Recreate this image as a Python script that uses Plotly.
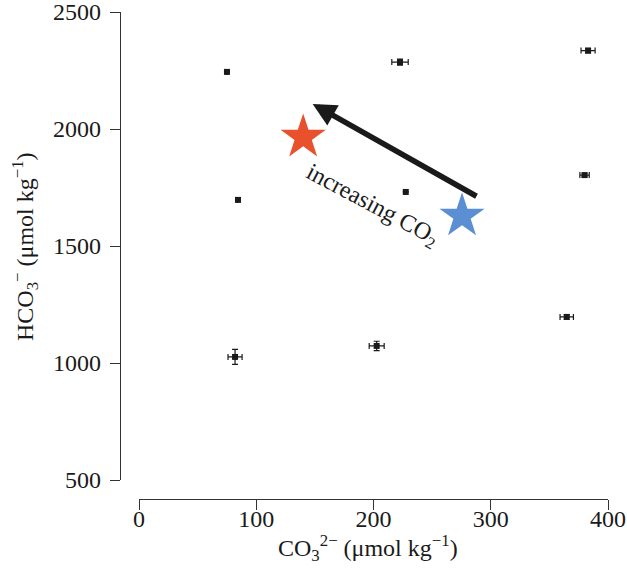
import plotly.graph_objects as go

# Data points (CO3 2-, HCO3-) with error bars
co3 = [75, 222.6, 383, 84.4, 227.5, 380, 364.8, 202.7, 81.9]
hco3 = [2244, 2286, 2335, 1697, 1731, 1803, 1197, 1073, 1026]
co3_err = [0, 7, 6, 0, 0, 4, 5.7, 6.4, 6]
hco3_err = [0, 13, 10, 0, 0, 8, 10, 20, 32]

# Stars
star_x = [140, 275.5]
star_y = [1965, 1628]
star_colors = ["#E8512B", "#5B8ED2"]

# Arrow (tail -> head)
arrow_tail = (289.1, 1709)
arrow_head = (148.1, 2107)
arrow_label = "increasing CO<sub>2</sub>"

x_ticks = [0, 100, 200, 300, 400]
y_ticks = [500, 1000, 1500, 2000, 2500]

x_title = "CO<sub>3</sub><sup>2−</sup> (μmol kg<sup>−1</sup>)"
y_title = "HCO<sub>3</sub><sup>−</sup> (μmol kg<sup>−1</sup>)"

FONT = "Liberation Serif, Times New Roman, serif"
INK = "#1a1a1a"

fig = go.Figure()
fig.add_trace(go.Scatter(
    x=co3, y=hco3, mode="markers",
    marker=dict(symbol="square", size=6, color=INK),
    error_x=dict(type="data", array=co3_err, color=INK, thickness=1.2, width=3),
    error_y=dict(type="data", array=hco3_err, color=INK, thickness=1.2, width=3),
    showlegend=False, hoverinfo="skip"))
fig.add_trace(go.Scatter(
    x=star_x, y=star_y, mode="markers",
    marker=dict(symbol="star", size=34, color=star_colors, line=dict(width=0)),
    showlegend=False, hoverinfo="skip"))

fig.add_annotation(
    x=arrow_head[0], y=arrow_head[1], ax=arrow_tail[0], ay=arrow_tail[1],
    xref="x", yref="y", axref="x", ayref="y", text="",
    showarrow=True, arrowhead=2, arrowwidth=5.5, arrowsize=0.85, arrowcolor=INK,
    standoff=0, startstandoff=0)
fig.add_annotation(
    x=199, y=1672, xref="x", yref="y", text=arrow_label, showarrow=False,
    textangle=28, font=dict(family=FONT, size=24, color=INK))

# Axis titles
fig.add_annotation(
    x=0.508, y=-0.1006, xref="paper", yref="paper", text=x_title, showarrow=False,
    xanchor="center", yanchor="middle", font=dict(family=FONT, size=24, color=INK))
fig.add_annotation(
    x=-0.1947, y=0.5195, xref="paper", yref="paper", text=y_title, showarrow=False,
    textangle=-90, xanchor="center", yanchor="middle",
    font=dict(family=FONT, size=24, color=INK))

axis_common = dict(
    anchor="free", position=0, automargin=False,
    ticks="outside", ticklen=10, tickwidth=1.2, tickcolor="#333",
    showline=True, linecolor="#333", linewidth=1.2, showgrid=False, zeroline=False,
    tickfont=dict(family=FONT, size=24, color=INK),
    ticklabeloverflow="allow",
)

fig.update_layout(
    width=627, height=582,
    margin=dict(l=120, r=19, t=12, b=83),
    paper_bgcolor="white", plot_bgcolor="white",
    font=dict(family=FONT, size=24, color=INK),
    xaxis=dict(domain=[0.039, 1], range=[0, 400], tickvals=x_ticks,
               ticklabelstandoff=-12, **axis_common),
    yaxis=dict(domain=[0.039, 1], range=[500, 2500], tickvals=y_ticks,
               ticklabelstandoff=4, **axis_common),
)

fig.write_html("out.html", config={"displayModeBar": False},
               post_script="document.body.style.margin='0';")
